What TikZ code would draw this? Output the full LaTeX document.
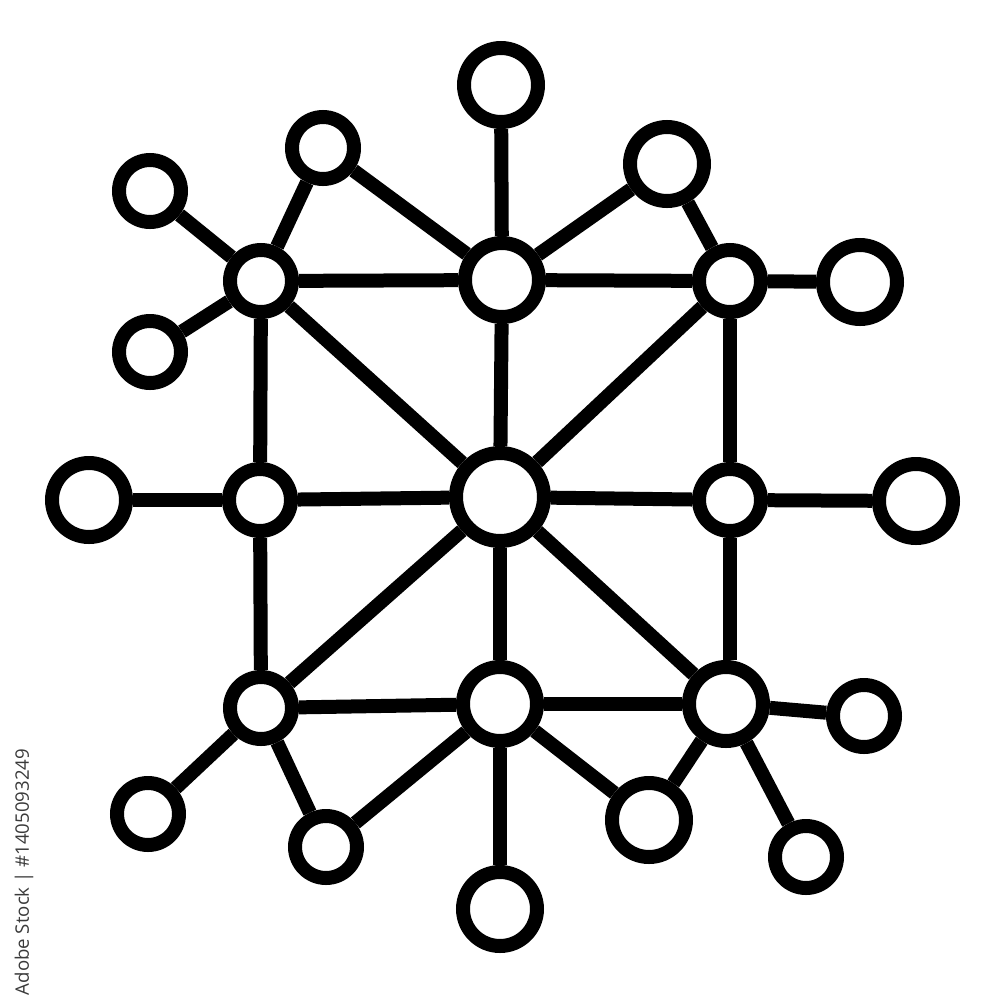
\documentclass[tikz,border=0pt]{standalone}
\usepackage{fontspec}
\newfontfamily\wmfont{Open Sans}
\definecolor{wmgray}{HTML}{3A3A3A}
\begin{document}
\begin{tikzpicture}[x=0.1mm,y=-0.1mm,
  link/.style={line width=1.4mm,black},
  nd/.style={circle,draw=black,line width=1.4mm,fill=white,inner sep=0pt},
  lg/.style={nd,minimum size=8.8mm},
  md/.style={nd,minimum size=7.4mm},
  sm/.style={nd,minimum size=6.2mm}]
\useasboundingbox (0,0) rectangle (1000,1000);
% nodes
\node[lg] (C) at (500,497) {};
\node[md] (TM) at (502,280) {};
\node[sm] (TR) at (730,281) {};
\node[sm] (TL) at (261,281) {};
\node[sm] (ML) at (260,500) {};
\node[sm] (MR) at (730,500) {};
\node[sm] (BL) at (261,708) {};
\node[md] (BM) at (500,704) {};
\node[md] (BR) at (726,704) {};
\node[md] (T) at (501,85) {};
\node[sm] (TLU) at (323,148) {};
\node[sm] (FUL) at (150,191) {};
\node[sm] (LU) at (150,352) {};
\node[md] (TRU) at (667,164) {};
\node[md] (RU) at (860,282) {};
\node[md] (FL) at (89,500) {};
\node[md] (FR) at (916,501) {};
\node[sm] (RL) at (864,716) {};
\node[sm] (BRL) at (806,857) {};
\node[md] (BRM) at (649,820) {};
\node[md] (B) at (500,909) {};
\node[sm] (BLM) at (326,847) {};
\node[sm] (BLF) at (148,814) {};
% connectors
\foreach \a/\b in {TL/TM,TM/TR,TL/ML,ML/BL,TR/MR,BL/BM,BM/BR,
  C/TL,C/TM,C/TR,C/ML,C/MR,C/BL,C/BM,C/BR,
  TM/T,TL/TLU,TLU/TM,TL/FUL,TL/LU,TM/TRU,TRU/TR,TR/RU,ML/FL,MR/FR,
  BL/BLF,BL/BLM,BLM/BM,BM/B,BM/BRM,BRM/BR,BR/RL,BR/BRL}
  \draw[link] (\a) -- (\b);
\draw[link] (MR) -- (BR.north -| MR);
% watermark
\node[rotate=90,text=wmgray,font=\wmfont\fontsize{5.3pt}{6pt}\selectfont,inner sep=0pt] (wm) at (24,872) {Adobe Stock | \#1405093249};
\end{tikzpicture}
\end{document}
